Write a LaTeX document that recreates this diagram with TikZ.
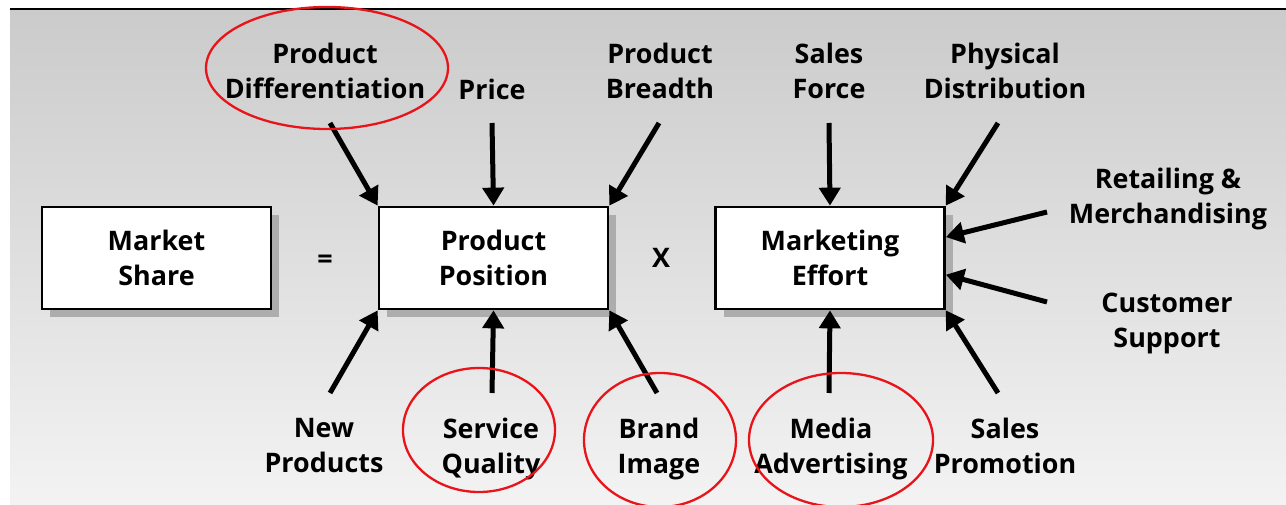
\documentclass[tikz,border=0pt]{standalone}
\usepackage{fontspec}
\setmainfont{Open Sans}
\usepackage{tikz}
\usetikzlibrary{arrows.meta, calc, shadows}

\definecolor{bgtop}{HTML}{CBCBCB}
\definecolor{bgbottom}{HTML}{F3F3F3}
\definecolor{ringred}{HTML}{E8141A}

\tikzset{
    lbl/.style = {font=\fontsize{26.9}{35}\selectfont\bfseries, align=center, inner sep=0pt, anchor=north},
    blk/.style = {draw, line width=2.7pt, fill=white, minimum width=229pt, minimum height=102pt,
                  font=\fontsize{26.9}{35}\selectfont\bfseries, align=center,
                  drop shadow={shadow xshift=8pt, shadow yshift=-8pt, fill=black!32, opacity=1}},
    push/.style = {-{Triangle[length=18pt, width=21pt]}, line width=5pt},
    ring/.style = {draw=ringred, line width=2.3pt}
}

\begin{document}
\begin{tikzpicture}[x=1pt, y=-1pt]

    \useasboundingbox (0,0) rectangle (1286,505);

    % Background
    \shade [top color=bgtop, bottom color=bgbottom] (10,10) rectangle (1286,505);
    \draw [line width=2pt] (10,9) -- (1286,9);

    % Coordinates
    \coordinate (t1) at (330,123);
    \coordinate (t2) at (492,123);
    \coordinate (t3) at (659,123);
    \coordinate (t4) at (829,123);
    \coordinate (t5) at (998,123);
    \coordinate (r1) at (1047,212);
    \coordinate (r2) at (1047,302);
    \coordinate (b1) at (330,393);
    \coordinate (b2) at (492,393);
    \coordinate (b3) at (657,393);
    \coordinate (b4) at (829,393);
    \coordinate (b5) at (998,393);

    % Boxes
    \node [blk] (share) at (156.5,258) {Market\\Share};
    \node [blk] (pos) at (493.5,258) {Product\\Position};
    \node [blk] (effort) at (830,258) {Marketing\\Effort};
    \node [lbl, anchor=center] (eq) at (325,262) {=};
    \node [lbl, anchor=center] (times) at (661,258) {X};

    % Labels
    \node [lbl] (diff) at (325,43) {Product\\Differentiation};
    \node [lbl] (price) at (492,79) {Price};
    \node [lbl] (breadth) at (660,43) {Product\\Breadth};
    \node [lbl] (force) at (829,43) {Sales\\Force};
    \node [lbl] (distr) at (1005,43) {Physical\\Distribution};
    \node [lbl] (retail) at (1168,168) {Retailing \&\\Merchandising};
    \node [lbl] (support) at (1167,293) {Customer\\Support};
    \node [lbl] (newprod) at (324,418) {New\\Products};
    \node [lbl] (service) at (491,418) {Service\\Quality};
    \node [lbl] (brand) at (659,418) {Brand\\Image};
    \node [lbl] (media) at (831,418) {Media\\Advertising};
    \node [lbl] (promo) at (1005,418) {Sales\\Promotion};

    % Arrows into Product Position
    \draw [push] (t1) -- (pos.north west);
    \draw [push] (t2) -- (pos.north);
    \draw [push] (t3) -- (pos.north east);
    \draw [push] (b1) -- (pos.south west);
    \draw [push] (b2) -- (pos.south);
    \draw [push] (b3) -- (pos.south east);

    % Arrows into Marketing Effort
    \draw [push] (t4) -- (effort.north);
    \draw [push] (t5) -- (effort.north east);
    \draw [push] (r1) -- ($(effort.north east)!0.3!(effort.south east)$);
    \draw [push] (r2) -- ($(effort.north east)!0.66!(effort.south east)$);
    \draw [push] (b4) -- (effort.south);
    \draw [push] (b5) -- (effort.south east);

    % Red rings
    \draw [ring] (327,68) ellipse [x radius=121, y radius=61];
    \draw [ring] (479,430) ellipse [x radius=76, y radius=62];
    \draw [ring] (660,440) ellipse [x radius=76, y radius=67];
    \draw [ring] (841,440) ellipse [x radius=92, y radius=67];

\end{tikzpicture}
\end{document}
